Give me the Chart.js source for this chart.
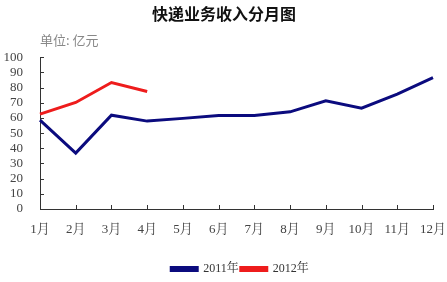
<!DOCTYPE html>
<html><head><meta charset="utf-8">
<script src="https://cdn.jsdelivr.net/npm/chart.js@4"></script>
<style>html,body{margin:0;padding:0;background:#fff}#wrap{width:447px;height:282px}</style>
</head><body><div id="wrap"><canvas id="c"></canvas></div>
<script>
const months = ["1月","2月","3月","4月","5月","6月","7月","8月","9月","10月","11月","12月"];
const series2011 = [58.5, 36.8, 61.8, 57.9, 59.7, 61.6, 61.6, 64.0, 71.3, 66.4, 75.7, 86.6];
const series2012 = [62.5, 70.2, 83.3, 77.4];
const titleText = "快递业务收入分月图";
const unitText = "单位: 亿元";
const FONT = "'Liberation Serif','Noto Serif CJK SC','Noto Sans CJK SC',serif";

const inwardTicks = {
  id: 'inwardTicks',
  afterLayout(chart) {
    const lg = chart.legend;
    if (lg) { lg.left += 22; lg.right += 22; lg.top += 3; lg.bottom += 3; }
    const tb = chart.titleBlock;
    if (tb) { tb.left += 6; tb.right += 6; }
  },
  afterDatasetsDraw(chart) {
    const ctx = chart.ctx, a = chart.chartArea;
    const xs = chart.scales.x, ys = chart.scales.y;
    ctx.save();
    ctx.strokeStyle = '#333'; ctx.lineWidth = 1;
    ctx.beginPath();
    xs.ticks.forEach((t, i) => {
      const px = Math.round(xs.getPixelForTick(i)) + 0.5;
      ctx.moveTo(px, a.bottom); ctx.lineTo(px, a.bottom - 4);
    });
    ys.ticks.forEach((t, i) => {
      const py = Math.round(ys.getPixelForTick(i)) + 0.5;
      ctx.moveTo(a.left, py); ctx.lineTo(a.left + 4, py);
    });
    ctx.stroke();
    ctx.fillStyle = '#888';
    ctx.font = "13px 'Noto Sans CJK SC'";
    ctx.textBaseline = 'middle';
    ctx.fillText(unitText, a.left, 40);
    ctx.restore();
  }
};

new Chart(document.getElementById('c'), {
  type: 'line',
  data: {
    labels: months,
    datasets: [
      {label: '2011年', data: series2011, borderColor: '#0b0b7e', backgroundColor: '#0b0b7e', borderWidth: 3, pointRadius: 0, tension: 0},
      {label: '2012年', data: series2012, borderColor: '#ee1c1c', backgroundColor: '#ee1c1c', borderWidth: 3, pointRadius: 0, tension: 0}
    ]
  },
  options: {
    responsive: true, maintainAspectRatio: false, animation: false,
    layout: {padding: {left: 3, right: 14, top: 0, bottom: 0}},
    plugins: {
      title: {display: true, text: titleText, color: '#111', font: {family: "'Noto Sans CJK SC'", size: 16, weight: 'bold'}, padding: {top: 4, bottom: 34}},
      legend: {position: 'bottom', labels: {boxWidth: 26, boxHeight: 3, padding: 2, color: '#333', font: {family: FONT, size: 12}}},
      tooltip: {enabled: false}
    },
    scales: {
      x: {offset: false, grid: {display: false, drawTicks: false}, border: {display: true, color: '#333', width: 1},
          afterFit(s) { s.height += 7.4; s.paddingLeft = 0; s.paddingRight = 0; },
          ticks: {color: '#444', padding: 13, maxRotation: 0, autoSkip: false, font: {family: FONT, size: 13}}},
      y: {min: 0, max: 100, grid: {display: false, drawTicks: false}, border: {display: true, color: '#333', width: 1},
          afterFit(s) { s.width = 37; },
          ticks: {stepSize: 10, autoSkip: false, color: '#444', padding: 17, font: {family: FONT, size: 13}}}
    }
  },
  plugins: [inwardTicks]
});
</script></body></html>
